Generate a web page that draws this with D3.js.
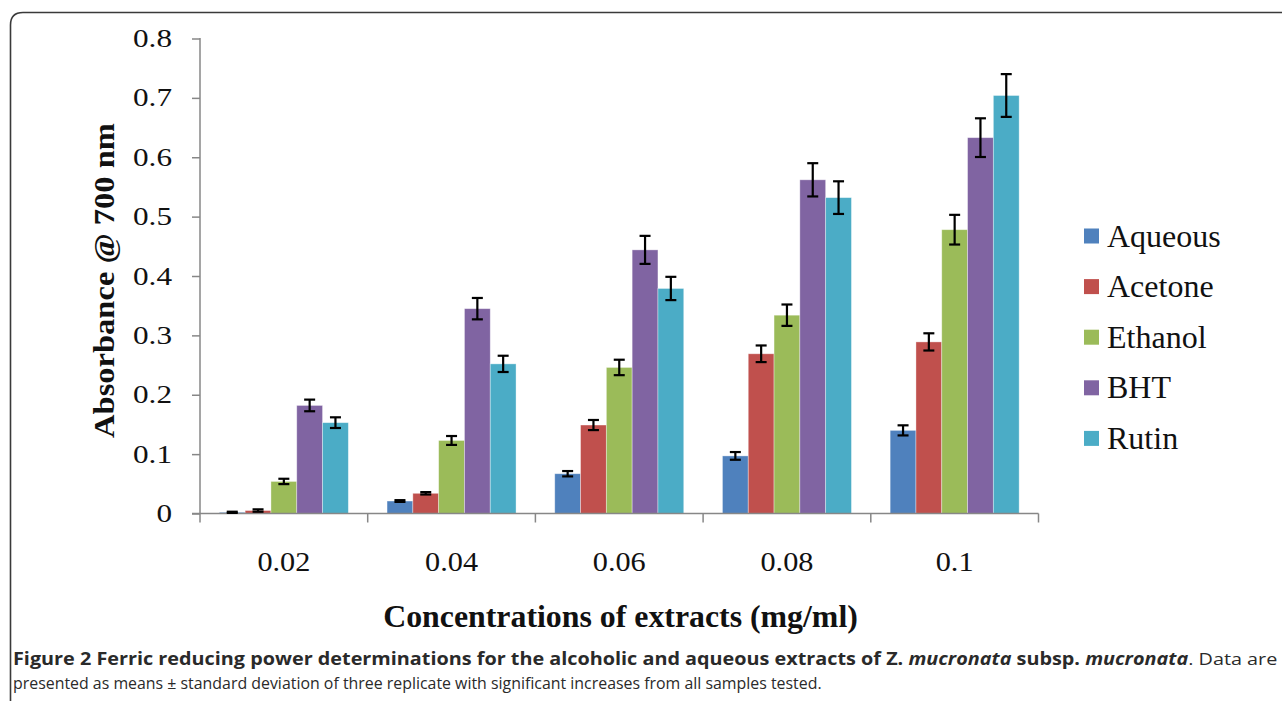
<!DOCTYPE html>
<html>
<head>
<meta charset="utf-8">
<script src="https://cdn.jsdelivr.net/npm/d3@7"></script>
<style>
  body { margin: 0; background: #fff; }
  svg { display: block; }
</style>
</head>
<body>
<div id="chart"></div>
<script>
// Data
var concentrations = ['0.02', '0.04', '0.06', '0.08', '0.1'];
var seriesNames = ['Aqueous', 'Acetone', 'Ethanol', 'BHT', 'Rutin'];
var seriesColors = ['#4F81BD', '#C0504D', '#9BBB59', '#8064A2', '#4BACC6'];

// means per series, one value per concentration
var aqueous = [0.002, 0.021, 0.067, 0.097, 0.140];
var acetone = [0.005, 0.034, 0.149, 0.269, 0.289];
var ethanol = [0.054, 0.123, 0.246, 0.334, 0.478];
var bht     = [0.182, 0.345, 0.444, 0.562, 0.633];
var rutin   = [0.153, 0.252, 0.379, 0.532, 0.704];

// standard deviations
var aqueousSd = [0.001, 0.0015, 0.0045, 0.0065, 0.0085];
var acetoneSd = [0.002, 0.002, 0.0085, 0.014, 0.0145];
var ethanolSd = [0.0045, 0.0075, 0.013, 0.018, 0.025];
var bhtSd     = [0.0098, 0.018, 0.0236, 0.028, 0.0326];
var rutinSd   = [0.009, 0.0137, 0.0196, 0.0275, 0.036];

var yTicks = [0, 0.1, 0.2, 0.3, 0.4, 0.5, 0.6, 0.7, 0.8];
var yTickLabels = ['0', '0.1', '0.2', '0.3', '0.4', '0.5', '0.6', '0.7', '0.8'];

var yTitle = 'Absorbance @ 700 nm';
var xTitle = 'Concentrations of extracts (mg/ml)';

var means = [aqueous, acetone, ethanol, bht, rutin];
var sds = [aqueousSd, acetoneSd, ethanolSd, bhtSd, rutinSd];

// Layout
var width = 1282, height = 701;
var plot = { left: 200, right: 1038.5, top: 38.5, bottom: 513.5 };
var serif = '"Liberation Serif", "Times New Roman", serif';

var svg = d3.select('#chart').append('svg')
    .attr('width', width)
    .attr('height', height);

// horizontal scale factor so that a text covers a given width
function fitWidth(text, target) {
  var natural = text.node().getComputedTextLength();
  return target / natural;
}

// Outer frame with rounded corner
svg.append('path')
  .attr('d', 'M10.5,701 V25 Q10.5,12.5 23,12.5 H1282')
  .attr('fill', 'none')
  .attr('stroke', '#3a3a3a')
  .attr('stroke-width', 1.6);

// Scales
var x0 = d3.scaleBand()
  .domain(concentrations)
  .range([plot.left, plot.right])
  .paddingInner(0)
  .paddingOuter(0);

var x1 = d3.scaleBand()
  .domain(seriesNames)
  .range([0, x0.bandwidth()])
  .paddingInner(0)
  .paddingOuter(0.75);

var y = d3.scaleLinear()
  .domain([0, 0.8])
  .range([plot.bottom, plot.top]);

// Bars
var groups = svg.append('g').classed('bars', true)
  .selectAll('g')
  .data(seriesNames)
  .enter().append('g')
    .attr('fill', function(d, i) { return seriesColors[i]; });

groups.selectAll('rect')
  .data(function(d, i) {
    return concentrations.map(function(c, j) {
      return { series: d, conc: c, val: means[i][j], sd: sds[i][j] };
    });
  })
  .enter().append('rect')
    .attr('x', function(d) { return x0(d.conc) + x1(d.series); })
    .attr('y', function(d) { return y(d.val); })
    .attr('width', x1.bandwidth())
    .attr('height', function(d) { return y(0) - y(d.val); })
    .attr('stroke', 'rgba(255,255,255,0.45)')
    .attr('stroke-width', 0.8);

// Axes
var yAxis = svg.append('g')
  .attr('transform', 'translate(' + plot.left + ',0)')
  .call(d3.axisLeft(y).tickValues(yTicks).tickSize(8).tickFormat(''));

var xAxis = svg.append('g')
  .attr('transform', 'translate(0,' + plot.bottom + ')')
  .call(d3.axisBottom(x0).tickSize(0).tickFormat(''));

// category boundary ticks
xAxis.selectAll('line.bound')
  .data(concentrations.concat(['end']))
  .enter().append('line')
    .classed('bound', true)
    .attr('x1', function(d) { return d === 'end' ? plot.right : x0(d); })
    .attr('x2', function(d) { return d === 'end' ? plot.right : x0(d); })
    .attr('y1', 0)
    .attr('y2', 9);

svg.selectAll('.domain, .tick line, line.bound')
  .attr('stroke', '#878787')
  .attr('stroke-width', 1.5);
yAxis.select('.domain').attr('d', 'M0,' + (plot.top - 0.5) + 'V' + plot.bottom);
yAxis.selectAll('.tick line').attr('x2', -8);
xAxis.select('.domain').attr('d', 'M' + (plot.left - 8) + ',0H' + plot.right);

// Error bars
var errs = svg.append('g').classed('errors', true)
  .attr('stroke', '#000')
  .attr('stroke-width', 2.2)
  .selectAll('g')
  .data(d3.merge(seriesNames.map(function(s, i) {
    return concentrations.map(function(c, j) {
      return { series: s, conc: c, val: means[i][j], sd: sds[i][j] };
    });
  })))
  .enter().append('g')
    .attr('transform', function(d) {
      return 'translate(' + (x0(d.conc) + x1(d.series) + x1.bandwidth() / 2) + ',0)';
    });

errs.append('line')
  .attr('y1', function(d) { return y(d.val + d.sd); })
  .attr('y2', function(d) { return y(d.val - d.sd); });
errs.append('line')
  .attr('x1', -5.5).attr('x2', 5.5)
  .attr('y1', function(d) { return y(d.val + d.sd); })
  .attr('y2', function(d) { return y(d.val + d.sd); });
errs.append('line')
  .attr('x1', -5.5).attr('x2', 5.5)
  .attr('y1', function(d) { return y(d.val - d.sd); })
  .attr('y2', function(d) { return y(d.val - d.sd); });

// Y tick labels
svg.append('g').selectAll('text')
  .data(yTicks)
  .enter().append('text')
    .attr('text-anchor', 'end')
    .attr('font-family', serif)
    .attr('font-size', 26)
    .attr('fill', '#111')
    .attr('transform', function(d) {
      return 'translate(172,' + (y(d) + 8.5) + ') scale(1.2,1)';
    })
    .text(function(d, i) { return yTickLabels[i]; });

// X tick labels
svg.append('g').selectAll('text')
  .data(concentrations)
  .enter().append('text')
    .attr('text-anchor', 'middle')
    .attr('font-family', serif)
    .attr('font-size', 28)
    .attr('fill', '#111')
    .attr('transform', function(d) {
      return 'translate(' + (x0(d) + x0.bandwidth() / 2) + ',571) scale(1.08,1)';
    })
    .text(function(d) { return d; });

// Axis titles
var yt = svg.append('text')
  .attr('text-anchor', 'middle')
  .attr('font-family', serif)
  .attr('font-weight', 'bold')
  .attr('font-size', 30)
  .attr('fill', '#111')
  .text(yTitle);
yt.attr('transform', 'translate(114,280.5) rotate(-90) scale(' + fitWidth(yt, 315) + ',1)');

var xt = svg.append('text')
  .attr('text-anchor', 'middle')
  .attr('font-family', serif)
  .attr('font-weight', 'bold')
  .attr('font-size', 31)
  .attr('fill', '#111')
  .text(xTitle);
xt.attr('transform', 'translate(620.5,627) scale(' + fitWidth(xt, 475) + ',1)');

// Legend
var legend = svg.append('g').selectAll('g')
  .data(seriesNames)
  .enter().append('g')
    .attr('transform', function(d, i) { return 'translate(1084,' + (236 + i * 50.6) + ')'; });

legend.append('rect')
  .attr('x', 0).attr('y', -7.5)
  .attr('width', 15).attr('height', 15)
  .attr('fill', function(d, i) { return seriesColors[i]; });

legend.append('text')
  .attr('x', 23).attr('y', 10.5)
  .attr('font-family', serif)
  .attr('font-size', 32)
  .attr('fill', '#111')
  .text(function(d) { return d; });

// Caption
var sans = '"Open Sans", "Noto Sans", sans-serif';
var cap1 = svg.append('text')
  .attr('font-family', sans)
  .attr('font-size', 17)
  .attr('fill', '#2a2a2a');
cap1.append('tspan').attr('font-weight', 'bold')
  .text('Figure 2 Ferric reducing power determinations for the alcoholic and aqueous extracts of Z. ');
cap1.append('tspan').attr('font-weight', 'bold').attr('font-style', 'italic').text('mucronata');
cap1.append('tspan').attr('font-weight', 'bold').text(' subsp. ');
cap1.append('tspan').attr('font-weight', 'bold').attr('font-style', 'italic').text('mucronata');
cap1.append('tspan').attr('font-weight', 'normal').text('. Data are');
cap1.attr('transform', 'translate(13,665) scale(' + fitWidth(cap1, 1265) + ',1)');

var cap2 = svg.append('text')
  .attr('font-family', sans)
  .attr('font-size', 17)
  .attr('fill', '#2a2a2a')
  .text('presented as means \u00b1 standard deviation of three replicate with significant increases from all samples tested.');
cap2.attr('transform', 'translate(13,689) scale(' + fitWidth(cap2, 809) + ',1)');
</script>
</body>
</html>
